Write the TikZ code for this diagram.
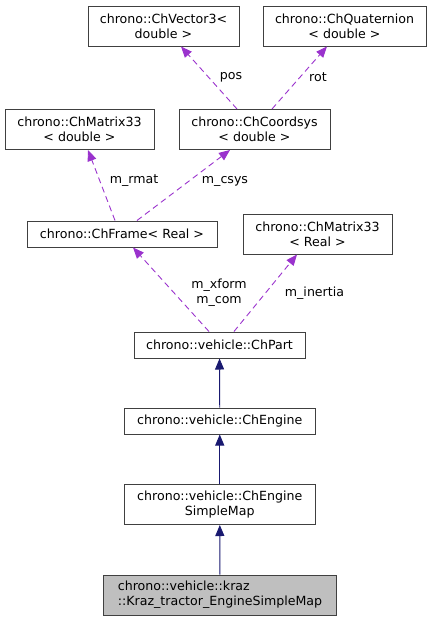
\documentclass[tikz,border=0pt]{standalone}
\usepackage{fontspec}
\setmainfont{DejaVu Sans}
\usetikzlibrary{arrows.meta}
\definecolor{member}{HTML}{9A32CD}
\definecolor{inherit}{HTML}{191970}
\definecolor{boxline}{HTML}{404040}
\begin{document}
\begin{tikzpicture}[x=1pt,y=-1pt,
    font=\fontsize{12.6}{15}\selectfont,
    cls/.style={draw=boxline, line width=1pt, inner sep=0pt, align=center, minimum height=26pt},
    cls2/.style={cls, minimum height=40pt},
    uses/.style={member, dashed, dash pattern=on 6pt off 4pt, line width=0.9pt, -{Triangle[length=11pt,width=9pt]}},
    isa/.style={inherit, line width=0.9pt, -{Triangle[length=11pt,width=9pt]}},
    lbl/.style={inner sep=0pt, align=center}]
    \useasboundingbox (0,0) rectangle (432,621);
    % templates
    \node (v3) at (163.5,26) [cls2, minimum width=151pt] {chrono::ChVector3<\\double >};
    \node (quat) at (344.5,26) [cls2, minimum width=163pt] {chrono::ChQuaternion\\< double >};
    \node (m33d) at (79.5,129.5) [cls2, minimum width=149pt] {chrono::ChMatrix33\\< double >};
    \node (csys) at (254.5,129.5) [cls2, minimum width=151pt] {chrono::ChCoordsys\\< double >};
    \node (frame) at (122,234) [cls, minimum width=190pt] {chrono::ChFrame< Real >};
    \node (m33r) at (317.5,234) [cls2, minimum width=149pt] {chrono::ChMatrix33\\< Real >};
    % vehicle classes
    \node (part) at (219.5,345) [cls, minimum width=171pt] {chrono::vehicle::ChPart};
    \node (eng) at (219.75,421) [cls, minimum width=191pt] {chrono::vehicle::ChEngine};
    \node (map) at (219.75,504.5) [cls2, minimum width=191pt] {chrono::vehicle::ChEngine\\SimpleMap};
    \node (kraz) at (220,595) [cls2, minimum width=233pt, fill=black!25, align=left] {chrono::vehicle::kraz\\::Kraz\_tractor\_EngineSimpleMap};
    % members
    \draw[uses] ([xshift=-17.5pt]csys.north) -- ([xshift=17.5pt]v3.south);
    \draw[uses] ([xshift=17.5pt]csys.north) -- ([xshift=-17.5pt]quat.south);
    \draw[uses] ([xshift=-7pt]frame.north) -- ([xshift=8.5pt]m33d.south);
    \draw[uses] ([xshift=15pt]frame.north) -- ([xshift=-24.5pt]csys.south);
    \draw[uses] ([xshift=-10.5pt]part.north) -- ([xshift=11pt]frame.south);
    \draw[uses] ([xshift=14.5pt]part.north) -- ([xshift=-20.5pt]m33r.south);
    \node (pos) at (231,77) [lbl] {pos};
    \node (rot) at (318,77) [lbl] {rot};
    \node (rmat) at (134,181) [lbl] {m\_rmat};
    \node (cs) at (225,181) [lbl] {m\_csys};
    \node (xf) at (219,292.5) [lbl] {m\_xform\\m\_com};
    \node (inert) at (314.5,293) [lbl] {m\_inertia};
    % bases
    \draw[isa] (eng) -- (part);
    \draw[isa] (map) -- (eng);
    \draw[isa] (kraz) -- (map);
\end{tikzpicture}
\end{document}
